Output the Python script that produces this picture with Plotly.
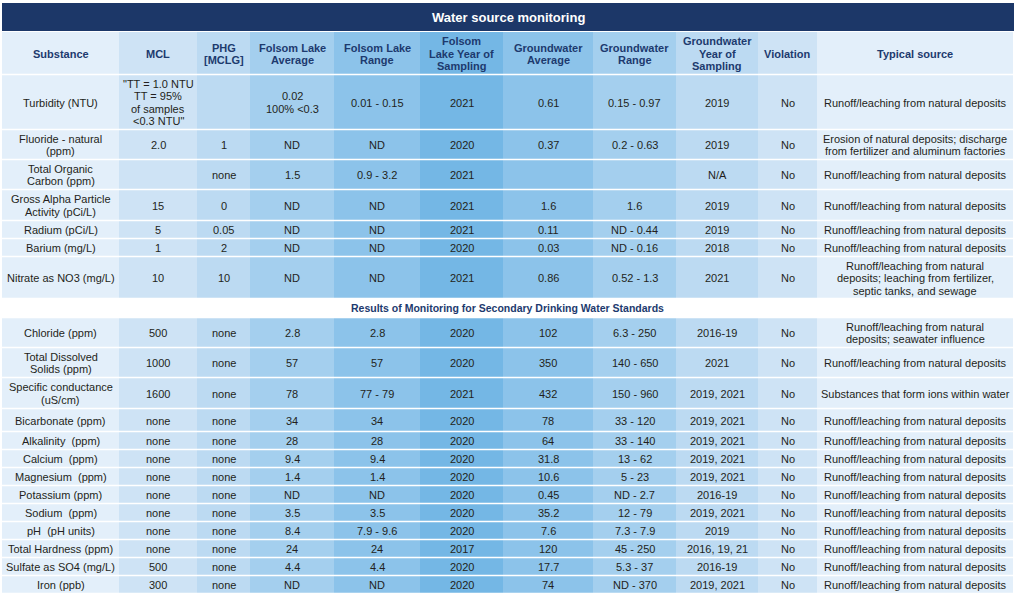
import plotly.graph_objects as go

# ---------------- data ----------------
title_text = "Water source monitoring"
section_text = "Results of Monitoring for Secondary Drinking Water Standards"

headers = ["Substance", "MCL", "PHG\n[MCLG]", "Folsom Lake\nAverage", "Folsom Lake\nRange",
           "Folsom\nLake Year of\nSampling", "Groundwater\nAverage", "Groundwater\nRange",
           "Groundwater\nYear of\nSampling", "Violation", "Typical source"]

RUNOFF = "Runoff/leaching from natural deposits"

substance_primary = ["Turbidity (NTU)", "Fluoride - natural\n(ppm)", "Total Organic\nCarbon (ppm)",
                     "Gross Alpha Particle\nActivity (pCi/L)", "Radium (pCi/L)", "Barium (mg/L)",
                     "Nitrate as NO3 (mg/L)"]
mcl_primary = ['"TT = 1.0 NTU\nTT = 95%\nof samples\n<0.3 NTU"', "2.0", "", "15", "5", "1", "10"]
phg_primary = ["", "1", "none", "0", "0.05", "2", "10"]
fl_avg_primary = ["0.02\n100% <0.3", "ND", "1.5", "ND", "ND", "ND", "ND"]
fl_range_primary = ["0.01 - 0.15", "ND", "0.9 - 3.2", "ND", "ND", "ND", "ND"]
fl_year_primary = ["2021", "2020", "2021", "2021", "2021", "2020", "2021"]
gw_avg_primary = ["0.61", "0.37", "", "1.6", "0.11", "0.03", "0.86"]
gw_range_primary = ["0.15 - 0.97", "0.2 - 0.63", "", "1.6", "ND - 0.44", "ND - 0.16", "0.52 - 1.3"]
gw_year_primary = ["2019", "2019", "N/A", "2019", "2019", "2018", "2021"]
violation_primary = ["No", "No", "No", "No", "No", "No", "No"]
source_primary = [RUNOFF,
                  "Erosion of natural deposits; discharge\nfrom fertilizer and aluminum factories",
                  RUNOFF, RUNOFF, RUNOFF, RUNOFF,
                  "Runoff/leaching from natural\ndeposits; leaching from fertilizer,\nseptic tanks, and sewage"]

substance_secondary = ["Chloride (ppm)", "Total Dissolved\nSolids (ppm)", "Specific conductance\n(uS/cm)",
                       "Bicarbonate (ppm)", "Alkalinity  (ppm)", "Calcium  (ppm)", "Magnesium  (ppm)",
                       "Potassium (ppm)", "Sodium  (ppm)", "pH  (pH units)", "Total Hardness (ppm)",
                       "Sulfate as SO4 (mg/L)", "Iron (ppb)"]
mcl_secondary = ["500", "1000", "1600", "none", "none", "none", "none", "none", "none", "none",
                 "none", "500", "300"]
phg_secondary = ["none"] * 13
fl_avg_secondary = ["2.8", "57", "78", "34", "28", "9.4", "1.4", "ND", "3.5", "8.4", "24", "4.4", "ND"]
fl_range_secondary = ["2.8", "57", "77 - 79", "34", "28", "9.4", "1.4", "ND", "3.5", "7.9 - 9.6",
                      "24", "4.4", "ND"]
fl_year_secondary = ["2020", "2020", "2021", "2020", "2020", "2020", "2020", "2020", "2020", "2020",
                     "2017", "2020", "2020"]
gw_avg_secondary = ["102", "350", "432", "78", "64", "31.8", "10.6", "0.45", "35.2", "7.6", "120",
                    "17.7", "74"]
gw_range_secondary = ["6.3 - 250", "140 - 650", "150 - 960", "33 - 120", "33 - 140", "13 - 62",
                      "5 - 23", "ND - 2.7", "12 - 79", "7.3 - 7.9", "45 - 250", "5.3 - 37", "ND - 370"]
gw_year_secondary = ["2016-19", "2021", "2019, 2021", "2019, 2021", "2019, 2021", "2019, 2021",
                     "2019, 2021", "2016-19", "2019, 2021", "2019", "2016, 19, 21", "2016-19",
                     "2019, 2021"]
violation_secondary = ["No"] * 13
source_secondary = ["Runoff/leaching from natural\ndeposits; seawater influence", RUNOFF,
                    "Substances that form ions within water"] + [RUNOFF] * 10

primary_cols = [substance_primary, mcl_primary, phg_primary, fl_avg_primary, fl_range_primary,
                fl_year_primary, gw_avg_primary, gw_range_primary, gw_year_primary,
                violation_primary, source_primary]
secondary_cols = [substance_secondary, mcl_secondary, phg_secondary, fl_avg_secondary,
                  fl_range_secondary, fl_year_secondary, gw_avg_secondary, gw_range_secondary,
                  gw_year_secondary, violation_secondary, source_secondary]

# ---------------- layout / style ----------------
W, H = 1017, 597
col_edges = [2, 119, 197, 250, 334, 420, 503, 593, 676, 758, 817, 1013]
col_fills = ["#e3effa", "#cee3f5", "#bcdaf2", "#a4cfee", "#8cc3ea", "#74b7e5",
             "#8cc3ea", "#a4cfee", "#bcdaf2", "#cee3f5", "#e3effa"]
title_box = (2, 1014, 3, 31)
header_box = (32, 74.5)
primary_bounds = [74.5, 129.5, 159.5, 189.5, 220.5, 238.5, 256.5, 298.5]
section_box = (298.5, 317.5)
secondary_bounds = [317.5, 347.5, 377.5, 408.5, 431.5, 449.5, 467.5, 485.5, 503.5, 521.5,
                    539.5, 557.5, 575.5, 593.5]
GAP = 1.4
LINE_H = 12.5
NAVY = "#1c3768"
HEAD_TXT = "#1d3a6e"
BODY_TXT = "#231f20"
FONT = "Liberation Sans, Arial, sans-serif"

shapes = []
annotations = []


def esc(s):
    return s.replace("&", "&amp;").replace("<", "&lt;").replace(">", "&gt;")


def add_text(text, xc, yc, size, color, bold=False):
    lines = text.split("\n")
    n = len(lines)
    for i, ln in enumerate(lines):
        if ln == "":
            continue
        t = esc(ln)
        if bold:
            t = "<b>" + t + "</b>"
        annotations.append(dict(
            x=xc, y=yc + (i - (n - 1) / 2) * LINE_H, xref="x", yref="y",
            text=t, showarrow=False, xanchor="center", yanchor="middle",
            font=dict(family=FONT, size=size, color=color)))


def add_rect(x0, x1, y0, y1, fill):
    shapes.append(dict(type="rect", xref="x", yref="y", x0=x0, x1=x1, y0=y0, y1=y1,
                       fillcolor=fill, line=dict(width=0), layer="below"))


# title bar
add_rect(title_box[0], title_box[1], title_box[2], title_box[3], NAVY)
add_text(title_text, (title_box[0] + title_box[1]) / 2, (title_box[2] + title_box[3]) / 2,
         13, "white", bold=True)

# header row
for c in range(len(headers)):
    x0, x1 = col_edges[c], col_edges[c + 1]
    add_rect(x0, x1, header_box[0], header_box[1] - GAP / 2, col_fills[c])
    add_text(headers[c], (x0 + x1) / 2, (header_box[0] + header_box[1]) / 2 + 0.5, 11,
             HEAD_TXT, bold=True)


def add_block(cols, bounds):
    nrows = len(cols[0])
    for r in range(nrows):
        y0 = bounds[r] + GAP / 2
        y1 = bounds[r + 1] - GAP / 2
        for c, col in enumerate(cols):
            x0, x1 = col_edges[c], col_edges[c + 1]
            add_rect(x0, x1, y0, y1, col_fills[c])
            add_text(col[r], (x0 + x1) / 2, (y0 + y1) / 2 + 0.5, 11, BODY_TXT)


add_block(primary_cols, primary_bounds)
add_text(section_text, (col_edges[0] + col_edges[-1]) / 2, (section_box[0] + section_box[1]) / 2,
         10.5, HEAD_TXT, bold=True)
add_block(secondary_cols, secondary_bounds)

fig = go.Figure()
fig.add_trace(go.Scatter(x=[0, W], y=[0, H], mode="markers", marker=dict(opacity=0),
                         hoverinfo="skip", showlegend=False))
fig.update_layout(
    width=W, height=H, autosize=False,
    margin=dict(l=0, r=0, t=0, b=0, pad=0),
    paper_bgcolor="white", plot_bgcolor="white",
    xaxis=dict(range=[0, W], visible=False, fixedrange=True),
    yaxis=dict(range=[H, 0], visible=False, fixedrange=True),
    shapes=shapes, annotations=annotations, showlegend=False,
)
fig.write_html("out.html", config={"displayModeBar": False},
               post_script="document.body.style.margin='0';document.body.style.overflow='hidden';")
